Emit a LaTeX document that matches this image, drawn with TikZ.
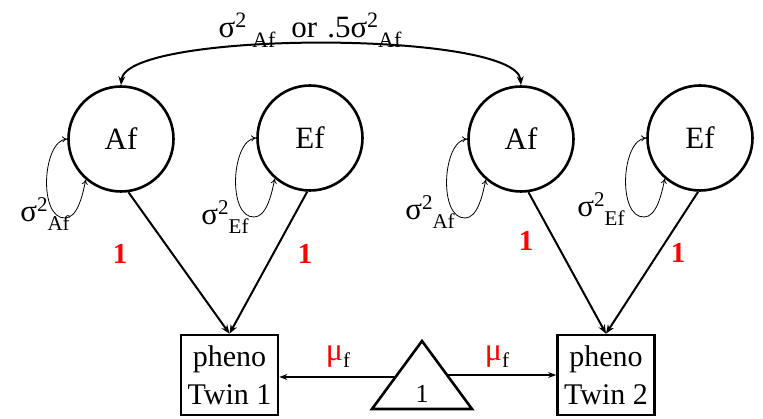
\documentclass[tikz,border=0pt]{standalone}
\usepackage{fontspec}
\setmainfont{Liberation Serif}
\usetikzlibrary{arrows.meta,calc}
\newcommand\sigsq[2]{σ\raisebox{0.33em}{\fontsize{#1}{#1}\selectfont 2}\raisebox{-0.3em}{\fontsize{#1}{#1}\selectfont #2}}
\newcommand\mufix{\textcolor{red}{μ}\raisebox{-0.22em}{\fontsize{21}{21}\selectfont f}}
\newcommand\varloop[1]{%
  \draw[loopstyle] (#1.180) .. controls ($(#1.180)+(-25,2)$) and ($(#1.180)+(-29,80)$) .. ($(#1.180)+(-2,79)$) .. controls ($(#1.180)+(10,79)$) and ($(#1.229)+(-3,16)$) .. (#1.229);}
\begin{document}
\begin{tikzpicture}[x=1pt,y=-1pt,
  lat/.style={circle,draw,line width=2.6pt,minimum size=105pt,inner sep=0pt,font=\fontsize{31}{31}\selectfont},
  obs/.style={rectangle,draw,line width=2.6pt,minimum width=97pt,minimum height=80pt,inner sep=0pt,align=center,font=\fontsize{30}{38}\selectfont},
  loadarrow/.style={line width=2pt,-{Stealth[length=9pt,width=7pt]}},
  meanarrow/.style={line width=1.4pt,-{Stealth[length=8pt,width=6pt]}},
  covarc/.style={line width=2pt,{Stealth[length=9pt,width=7pt]}-{Stealth[length=9pt,width=7pt]}},
  loopstyle/.style={line width=0.8pt,{To[length=5pt,width=6pt]}-{To[length=5pt,width=6pt]}},
  redlab/.style={text=red,font=\bfseries\fontsize{29}{29}\selectfont},
  varlab/.style={font=\fontsize{31}{31}\selectfont,inner sep=0pt},
  mulab/.style={font=\fontsize{32}{32}\selectfont,inner sep=0pt}]
\useasboundingbox (0,0) rectangle (763,419);
% latent variables
\node[lat] (Af1) at (121,139) {Af};
\node[lat] (Ef1) at (310,138) {Ef};
\node[lat] (Af2) at (521,139) {Af};
\node[lat] (Ef2) at (700,138) {Ef};
% observed
\node[obs] (box1) at (229.5,375) {pheno\\Twin 1};
\node[obs] (box2) at (606,375) {pheno\\Twin 2};
% triangle
\coordinate (tA) at (422,341);
\coordinate (tL) at (372,409);
\coordinate (tR) at (472,409);
\draw[line width=2.6pt,line join=miter] (tA) -- (tR) -- (tL) -- cycle;
\node[font=\fontsize{26}{26}\selectfont,inner sep=0pt] (tri) at (422,394) {1};
\coordinate (tml) at (395,377);
\coordinate (tmr) at (447,375);
\draw[meanarrow] (tml) -- (tml -| box1.east);
\draw[meanarrow] (tmr) -- (tmr -| box2.west);
\node[mulab] (mu1) at (338,357) {\mufix};
\node[mulab] (mu2) at (497,357) {\mufix};
% loadings
\draw[loadarrow] (Af1.-82) -- (box1.north);
\draw[loadarrow] (Ef1.-93) -- (box1.north);
\draw[loadarrow] (Af2.-82) -- (box2.north);
\draw[loadarrow] (Ef2.-92) -- (box2.north);
\node[redlab] (l1) at (120,254) {1};
\node[redlab] (l2) at (305,254) {1};
\node[redlab] (l3) at (526,241) {1};
\node[redlab] (l4) at (678,253) {1};
% variances
\varloop{Af1}
\varloop{Ef1}
\varloop{Af2}
\varloop{Ef2}
\node[varlab] (vA1) at (45,214) {\sigsq{21}{Af}};
\node[varlab] (vE1) at (225,217) {\sigsq{21}{Ef}};
\node[varlab] (vA2) at (430,212) {\sigsq{21}{Af}};
\node[varlab] (vE2) at (601,209) {\sigsq{21}{Ef}};
% covariance
\draw[covarc] (Af1.north) .. controls ($(Af1.north)+(5,-55)$) and ($(Af2.north)+(-5,-55)$) .. (Af2.north);
\node[font=\fontsize{31}{31}\selectfont,inner sep=0pt] (covlab) at (310,30) {\sigsq{22}{\hspace{6pt}Af}\hspace{16pt}or\hspace{10pt}.5\sigsq{22}{Af}};
\end{tikzpicture}
\end{document}
